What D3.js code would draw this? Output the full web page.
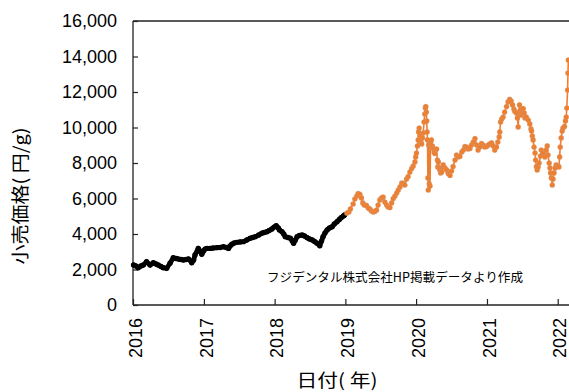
<!DOCTYPE html>
<html>
<head>
<meta charset="utf-8">
<script src="https://cdn.jsdelivr.net/npm/d3@7"></script>
<style>
  body { margin: 0; background: #fff; }
  svg { display: block; }
</style>
</head>
<body>
<svg id="chart" width="569" height="392"></svg>
<script>
// Axis ticks
const yTicks = [0, 2000, 4000, 6000, 8000, 10000, 12000, 14000, 16000];
const yearTicks = [2016, 2017, 2018, 2019, 2020, 2021, 2022];

// Retail price (円/g), 2016–2018
const earlyPrices = [
  ["2016-01-04",2250],["2016-01-16",2200],["2016-01-28",2100],["2016-02-11",2200],["2016-02-23",2250],
  ["2016-03-11",2440],["2016-03-29",2250],["2016-04-15",2380],["2016-04-29",2310],["2016-05-10",2250],
  ["2016-05-24",2170],["2016-06-05",2100],["2016-06-23",2070],["2016-07-10",2350],["2016-07-27",2660],
  ["2016-08-10",2620],["2016-08-22",2590],["2016-09-05",2560],["2016-09-17",2535],["2016-10-01",2560],
  ["2016-10-13",2590],["2016-10-30",2380],["2016-11-09",2535],["2016-11-16",2820],["2016-12-03",3190],
  ["2016-12-12",3040],["2016-12-21",2860],["2016-12-30",3040],["2017-01-07",3150],["2017-01-17",3190],
  ["2017-02-02",3190],["2017-02-17",3210],["2017-03-09",3230],["2017-03-26",3240],["2017-04-12",3285],
  ["2017-04-26",3240],["2017-05-08",3190],["2017-05-16",3320],["2017-05-25",3420],["2017-06-06",3490],
  ["2017-06-20",3530],["2017-07-07",3550],["2017-07-24",3570],["2017-08-10",3660],["2017-08-28",3760],
  ["2017-09-10",3800],["2017-09-23",3850],["2017-10-11",3940],["2017-10-27",4040],["2017-11-08",4085],
  ["2017-11-22",4130],["2017-12-04",4200],["2017-12-18",4280],["2017-12-29",4390],["2018-01-09",4470],
  ["2018-01-20",4340],["2018-01-26",4230],["2018-02-08",4130],["2018-02-17",4000],["2018-02-25",3850],
  ["2018-03-10",3800],["2018-03-23",3760],["2018-04-02",3600],["2018-04-09",3480],["2018-04-18",3660],
  ["2018-04-27",3850],["2018-05-09",3920],["2018-05-23",3940],["2018-06-04",3890],["2018-06-18",3790],
  ["2018-06-30",3720],["2018-07-14",3660],["2018-07-26",3580],["2018-08-08",3480],["2018-08-22",3340],
  ["2018-08-31",3600],["2018-09-08",3850],["2018-09-18",4060],["2018-09-29",4230],["2018-10-11",4340],
  ["2018-10-25",4410],["2018-11-05",4560],["2018-11-19",4690],["2018-12-01",4820],["2018-12-10",4920],
  ["2018-12-22",5010],["2018-12-28",5070]
];

// Retail price (円/g), 2019 onward
const recentPrices = [
  ["2019-01-09",5180],["2019-01-19",5240],["2019-01-27",5410],["2019-02-10",5690],["2019-02-19",5970],
  ["2019-03-01",6140],["2019-03-08",6280],["2019-03-17",6230],["2019-03-25",6030],["2019-04-01",5750],
  ["2019-04-09",5630],["2019-04-20",5610],["2019-04-29",5460],["2019-05-07",5410],["2019-05-16",5300],
  ["2019-05-25",5240],["2019-06-02",5270],["2019-06-11",5350],["2019-06-19",5630],["2019-06-28",5920],
  ["2019-07-07",6030],["2019-07-15",6080],["2019-07-24",5800],["2019-08-02",5630],["2019-08-10",5520],
  ["2019-08-19",5490],["2019-08-28",5750],["2019-09-05",6000],["2019-09-14",6140],["2019-09-23",6310],
  ["2019-10-01",6480],["2019-10-10",6650],["2019-10-19",6870],["2019-10-27",6850],["2019-11-04",6760],
  ["2019-11-13",7100],["2019-11-21",7240],["2019-11-30",7490],["2019-12-09",7690],["2019-12-17",7830],
  ["2019-12-26",8060],["2019-12-30",8340],["2020-01-03",8560],["2020-01-08",8960],["2020-01-12",9300],
  ["2020-01-14",9750],["2020-01-17",9970],["2020-01-21",9520],["2020-01-26",9180],["2020-01-30",9070],
  ["2020-02-03",9410],["2020-02-07",9690],["2020-02-11",10310],["2020-02-15",10760],["2020-02-18",11100],
  ["2020-02-20",11180],["2020-02-23",10870],["2020-02-25",10370],["2020-02-27",9750],["2020-02-29",9300],
  ["2020-03-02",7160],["2020-03-04",6480],["2020-03-06",9010],["2020-03-09",6820],["2020-03-11",8850],
  ["2020-03-13",6700],["2020-03-16",9180],["2020-03-20",9300],["2020-03-25",8960],["2020-03-30",8820],
  ["2020-04-03",8620],["2020-04-07",8540],["2020-04-10",8730],["2020-04-16",8790],["2020-04-20",8170],
  ["2020-04-22",7780],["2020-04-25",8060],["2020-04-28",7720],["2020-05-03",7610],["2020-05-07",7440],
  ["2020-05-12",7490],["2020-05-15",7720],["2020-05-20",7890],["2020-05-29",7720],["2020-06-07",7610],
  ["2020-06-15",7410],["2020-06-24",7300],["2020-07-02",7550],["2020-07-10",7800],["2020-07-20",8170],
  ["2020-07-28",8450],["2020-08-05",8340],["2020-08-14",8370],["2020-08-24",8620],["2020-09-01",8730],
  ["2020-09-09",8930],["2020-09-18",8900],["2020-09-26",8790],["2020-10-05",8820],["2020-10-13",9010],
  ["2020-10-22",9180],["2020-10-31",9380],["2020-11-09",9010],["2020-11-16",8730],["2020-11-25",8900],
  ["2020-12-04",9100],["2020-12-12",9010],["2020-12-21",8900],["2020-12-30",8930],["2021-01-07",9010],
  ["2021-01-15",9070],["2021-01-25",9130],["2021-02-02",8960],["2021-02-10",8730],["2021-02-19",8900],
  ["2021-02-26",9180],["2021-03-05",9470],["2021-03-08",9750],["2021-03-12",10310],["2021-03-18",10480],
  ["2021-03-25",10590],["2021-04-02",10870],["2021-04-12",11180],["2021-04-20",11440],["2021-04-28",11580],
  ["2021-05-06",11490],["2021-05-13",11270],["2021-05-20",11040],["2021-05-25",10900],["2021-06-02",10820],
  ["2021-06-07",10540],["2021-06-11",10030],["2021-06-15",10870],["2021-06-18",11270],["2021-06-23",10990],
  ["2021-06-28",10700],["2021-07-02",10870],["2021-07-07",11070],["2021-07-12",10820],["2021-07-16",10540],
  ["2021-07-23",10590],["2021-08-02",10420],["2021-08-10",10200],["2021-08-16",9920],["2021-08-19",9800],
  ["2021-08-23",9520],["2021-08-27",9300],["2021-09-01",8900],["2021-09-06",8560],["2021-09-09",8170],
  ["2021-09-13",7800],["2021-09-17",7610],["2021-09-22",7780],["2021-09-27",8000],["2021-10-04",8390],
  ["2021-10-08",8730],["2021-10-18",8560],["2021-10-27",8340],["2021-11-02",8730],["2021-11-08",8960],
  ["2021-11-12",8450],["2021-11-18",8000],["2021-11-22",7720],["2021-11-25",7440],["2021-11-29",7160],
  ["2021-12-04",6760],["2021-12-08",7100],["2021-12-13",7440],["2021-12-19",7720],["2021-12-24",7890],
  ["2022-01-04",7830],["2022-01-07",7780],["2022-01-11",8340],["2022-01-14",8900],["2022-01-19",9410],
  ["2022-01-24",9800],["2022-01-28",9970],["2022-02-05",10060],["2022-02-10",10370],["2022-02-14",10590],
  ["2022-02-17",11100],["2022-02-21",12110],["2022-02-23",13070],["2022-02-25",13800]
];

const latinFont = '"Liberation Sans", Arial, sans-serif';
const cjkFont = '"Noto Sans CJK JP", "Noto Sans CJK SC", sans-serif';

const parse = d3.timeParse("%Y-%m-%d");
const early = earlyPrices.map(([d, v]) => ({ date: parse(d), value: v }));
const recent = recentPrices.map(([d, v]) => ({ date: parse(d), value: v }));

const svg = d3.select("#chart");

const plotLeft = 133, plotTop = 21, plotBottom = 305;
const startDate = new Date(2016, 0, 1), endDate = new Date(2022, 6, 1);
const pxPerDay = 0.19375;
const plotRight = plotLeft + (endDate - startDate) / 864e5 * pxPerDay;

const x = d3.scaleTime().domain([startDate, endDate]).range([plotLeft, plotRight]);
const y = d3.scaleLinear().domain([0, 16000]).range([plotBottom, plotTop]);

// Frame: left, bottom and top edges
const frame = svg.append("g").attr("stroke", "#222").attr("stroke-width", 1.3).attr("fill", "none");
frame.append("line").attr("x1", plotLeft).attr("x2", plotLeft).attr("y1", plotTop).attr("y2", plotBottom);
frame.append("line").attr("x1", plotLeft).attr("x2", plotRight).attr("y1", plotBottom).attr("y2", plotBottom);
frame.append("line").attr("x1", plotLeft).attr("x2", plotRight).attr("y1", plotTop).attr("y2", plotTop);

// Y axis (ticks point inward)
const yAxis = svg.append("g")
  .attr("transform", `translate(${plotLeft},0)`)
  .call(d3.axisLeft(y).tickValues(yTicks).tickFormat(d3.format(",")).tickSizeInner(-5).tickSizeOuter(0).tickPadding(16));
yAxis.select(".domain").remove();
yAxis.selectAll(".tick line").attr("stroke", "#222").attr("stroke-width", 1.2);
yAxis.selectAll(".tick text")
  .attr("fill", "#000").attr("font-family", latinFont).attr("font-size", 18);

// X axis (ticks point inward, labels rotated)
const xAxis = svg.append("g")
  .attr("transform", `translate(0,${plotBottom})`)
  .call(d3.axisBottom(x).tickValues(yearTicks.map(yr => new Date(yr, 0, 1)))
    .tickFormat(d3.timeFormat("%Y")).tickSizeInner(-6).tickSizeOuter(0));
xAxis.select(".domain").remove();
xAxis.selectAll(".tick line").attr("stroke", "#222").attr("stroke-width", 1.2);
xAxis.selectAll(".tick text")
  .attr("x", 0).attr("y", 0).attr("dy", null)
  .attr("transform", "translate(8.2,13) rotate(-90)")
  .attr("text-anchor", "end")
  .attr("fill", "#000").attr("font-family", latinFont).attr("font-size", 18);

const line = d3.line().x(d => x(d.date)).y(d => y(d.value));

// 2016–2018 series: thick black trace
svg.append("path").datum(early)
  .attr("d", line).attr("fill", "none")
  .attr("stroke", "#000").attr("stroke-width", 4.8)
  .attr("stroke-linejoin", "round").attr("stroke-linecap", "round");
svg.append("g").selectAll("circle").data(early).join("circle")
  .attr("cx", d => x(d.date)).attr("cy", d => y(d.value)).attr("r", 2.7).attr("fill", "#000");

// 2019 onward series: orange line with markers
svg.append("path").datum(recent)
  .attr("d", line).attr("fill", "none")
  .attr("stroke", "#EF7F30").attr("stroke-width", 1.6)
  .attr("stroke-linejoin", "round");
svg.append("g").selectAll("circle").data(recent).join("circle")
  .attr("cx", d => x(d.date)).attr("cy", d => y(d.value)).attr("r", 2.6)
  .attr("fill", "#EF7F30").attr("stroke", "#b8a89c").attr("stroke-opacity", 0.6).attr("stroke-width", 0.4);

// Source note
svg.append("text")
  .attr("x", 267).attr("y", 282)
  .attr("font-family", cjkFont).attr("font-size", 12.5).attr("fill", "#000")
  .attr("textLength", 256).attr("lengthAdjust", "spacingAndGlyphs")
  .text("フジデンタル株式会社HP掲載データより作成");

// Axis titles
svg.append("text")
  .attr("transform", "translate(27,196) rotate(-90)")
  .attr("text-anchor", "middle")
  .attr("font-family", cjkFont).attr("font-size", 18).attr("fill", "#000")
  .attr("textLength", 137).attr("lengthAdjust", "spacingAndGlyphs")
  .text("小売価格( 円/g)");

svg.append("text")
  .attr("x", 337).attr("y", 387)
  .attr("text-anchor", "middle")
  .attr("font-family", cjkFont).attr("font-size", 18).attr("fill", "#000")
  .attr("textLength", 81).attr("lengthAdjust", "spacingAndGlyphs")
  .text("日付( 年)");
</script>
</body>
</html>
